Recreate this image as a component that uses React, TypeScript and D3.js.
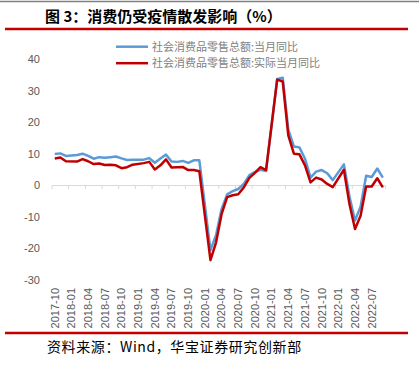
import React from "react";
import * as d3 from "d3";

const months: string[] = [
  "2017-10","2017-11","2017-12",
  "2018-01","2018-02","2018-03","2018-04","2018-05","2018-06","2018-07","2018-08","2018-09","2018-10","2018-11","2018-12",
  "2019-01","2019-02","2019-03","2019-04","2019-05","2019-06","2019-07","2019-08","2019-09","2019-10","2019-11","2019-12",
  "2020-01","2020-02","2020-03","2020-04","2020-05","2020-06","2020-07","2020-08","2020-09","2020-10","2020-11","2020-12",
  "2021-01","2021-02","2021-03","2021-04","2021-05","2021-06","2021-07","2021-08","2021-09","2021-10","2021-11","2021-12",
  "2022-01","2022-02","2022-03","2022-04","2022-05","2022-06","2022-07","2022-08","2022-09",
];

const nominalYoY: (number | null)[] = [
  10.0, 10.2, 9.4,
  null, 9.7, 10.1, 9.4, 8.5, 9.0, 8.8, 9.0, 9.2, 8.6, 8.1, 8.2,
  null, 8.2, 8.7, 7.2, 8.6, 9.8, 7.6, 7.5, 7.8, 7.2, 8.0, 8.0,
  null, -20.5, -15.8, -7.5, -2.8, -1.8, -1.1, 0.5, 3.3, 4.3, 5.0, 4.6,
  null, 33.8, 34.2, 17.7, 12.4, 12.1, 8.5, 2.5, 4.4, 4.9, 3.9, 1.7,
  null, 6.7, -3.5, -11.1, -6.7, 3.1, 2.7, 5.4, 2.5,
];

const realYoY: (number | null)[] = [
  8.6, 8.9, 7.7,
  null, 7.6, 8.4, 7.7, 6.8, 7.0, 6.5, 6.6, 6.4, 5.5, 5.8, 6.6,
  null, 7.1, 7.5, 5.1, 6.4, 8.3, 5.7, 5.8, 5.9, 4.9, 4.9, 4.5,
  null, -23.7, -18.1, -9.1, -3.7, -3.1, -2.8, -0.6, 2.4, 4.0, 5.8, 4.9,
  null, 33.6, 33.0, 15.9, 10.1, 9.9, 6.4, 1.0, 2.5, 1.9, 0.5, -0.5,
  null, 5.0, -5.9, -13.8, -9.6, -0.3, -0.3, 2.3, -0.6,
];

const yTicks: number[] = [-30, -20, -10, 0, 10, 20, 30, 40];
const seriesNames: string[] = ["社会消费品零售总额:当月同比", "社会消费品零售总额:实际当月同比"];
const seriesColors: string[] = ["#5B9BD5", "#C00000"];
const title = "图 3：消费仍受疫情散发影响（%）";
const source = "资料来源：Wind，华宝证券研究创新部";

export default function App() {
  const W = 419, H = 376;
  const x = d3.scaleBand<string>().domain(months).range([52, 385.6]).paddingInner(0).paddingOuter(0);
  const y = d3.scaleLinear().domain([-30, 40]).range([280, 59.5]);
  const bw = x.bandwidth();
  const cx = (m: string) => (x(m) as number) + bw / 2;

  const mkLine = (vals: (number | null)[]) => {
    const pts = months
      .map((m, i) => ({ m, v: vals[i] }))
      .filter((d) => d.v !== null) as { m: string; v: number }[];
    return d3.line<{ m: string; v: number }>().x((d) => cx(d.m)).y((d) => y(d.v))(pts) || "";
  };

  const tickMonths = months.filter((_, i) => i % 3 === 0);
  const labelFont = "'Liberation Sans', Arial, sans-serif";
  const cjkFont = "'Noto Sans CJK SC', sans-serif";

  return (
    <svg width={W} height={H} style={{ position: "absolute", left: 0, top: 0, background: "#fff" }}>
      <line x1={0} x2={W} y1={1.5} y2={1.5} stroke="#808080" strokeWidth={1.5} />
      <text x={45} y={21.5} fontFamily={cjkFont} fontWeight={700} fontSize={15} fill="#000">{title}</text>
      <line x1={5} x2={408} y1={29} y2={29} stroke="#C00000" strokeWidth={2.5} />

      {yTicks.map((t) => (
        <text key={t} x={40} y={y(t)} dy="0.35em" textAnchor="end" fontFamily={labelFont} fontSize={11} fill="#595959">{t}</text>
      ))}

      <line x1={52} x2={385.6} y1={y(0)} y2={y(0)} stroke="#D9D9D9" strokeWidth={1} />
      {tickMonths.map((m) => (
        <line key={"t" + m} x1={(x(m) as number)} x2={(x(m) as number)} y1={y(0)} y2={y(0) + 3.5} stroke="#D9D9D9" strokeWidth={1} />
      ))}
      <line x1={385.6} x2={385.6} y1={y(0)} y2={y(0) + 3.5} stroke="#D9D9D9" strokeWidth={1} />

      {tickMonths.map((m) => (
        <text key={"l" + m} transform={`translate(${cx(m)},288) rotate(-90)`} dy="0.35em" textAnchor="end" fontFamily={labelFont} fontSize={11} fill="#595959">{m}</text>
      ))}

      <path d={mkLine(nominalYoY)} fill="none" stroke={seriesColors[0]} strokeWidth={2.5} strokeLinejoin="round" />
      <path d={mkLine(realYoY)} fill="none" stroke={seriesColors[1]} strokeWidth={2.5} strokeLinejoin="round" />

      {seriesNames.map((n, i) => (
        <g key={n}>
          <line x1={116} x2={148} y1={46.7 + i * 16.5} y2={46.7 + i * 16.5} stroke={seriesColors[i]} strokeWidth={2.5} />
          <text x={152} y={46.7 + i * 16.5} dy="0.35em" fontFamily={cjkFont} fontSize={11} fill="#7F7F7F">{n}</text>
        </g>
      ))}

      <line x1={5} x2={408} y1={333} y2={333} stroke="#C00000" strokeWidth={2.5} />
      <text x={47} y={351.5} fontFamily={cjkFont} fontSize={14} letterSpacing={0.6} fill="#000">{source}</text>
    </svg>
  );
}
